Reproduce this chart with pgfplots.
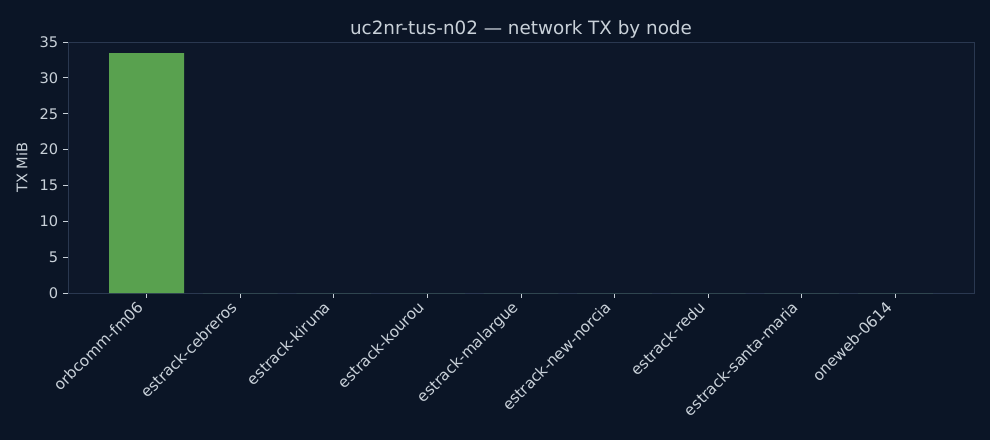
\documentclass[border=0pt]{standalone}
\usepackage{pgfplots}
\pgfplotsset{compat=1.18}
\usepackage{fontspec}
\setmainfont{DejaVu Sans}
\definecolor{figbg}{HTML}{0B1526}
\definecolor{axbg}{HTML}{0D1729}
\definecolor{spine}{HTML}{2A3850}
\definecolor{txt}{HTML}{C9D1D9}
\definecolor{barg}{HTML}{59A14F}
\begin{document}
\begin{tikzpicture}
\useasboundingbox (0,0) rectangle (712.8pt,316.8pt);
\fill[figbg] (0,0) rectangle (712.8pt,316.8pt);
\begin{axis}[
  at={(48.96pt,105.84pt)}, anchor=south west,
  scale only axis,
  width=652.3pt, height=180.7pt,
  axis background/.style={fill=axbg},
  axis line style={draw=spine, line width=0.6pt},
  xmin=-0.84, xmax=8.84,
  ymin=0, ymax=35,
  ytick={0,5,...,35},
  xtick={0,...,8},
  xticklabels={orbcomm-fm06,estrack-cebreros,estrack-kiruna,estrack-kourou,estrack-malargue,estrack-new-norcia,estrack-redu,estrack-santa-maria,oneweb-0614},
  y tick label style={font=\fontsize{10.5}{12}\selectfont, text=txt},
  x tick label style={font=\fontsize{11}{13}\selectfont, text=txt, xshift=-7.5pt, rotate=45, anchor=north east, inner sep=1pt},
  /pgf/number format/assume math mode=true,
  tick align=outside,
  major tick length=3.5pt,
  tick style={draw=txt, line width=0.6pt},
  xtick pos=bottom, ytick pos=left,
  ylabel={TX MiB},
  ylabel style={font=\fontsize{10.5}{12}\selectfont, text=txt, yshift=2pt},
  title={uc2nr-tus-n02 — network TX by node},
  title style={font=\fontsize{13.2}{15}\selectfont, text=txt, yshift=-6.5pt},
  ybar, bar width=0.8, bar shift=0pt,
]
\addplot[fill=barg, draw=none] coordinates {
(0,33.45) (1,0) (2,0) (3,0) (4,0) (5,0) (6,0) (7,0) (8,0)
};
\end{axis}
\end{tikzpicture}
\end{document}
